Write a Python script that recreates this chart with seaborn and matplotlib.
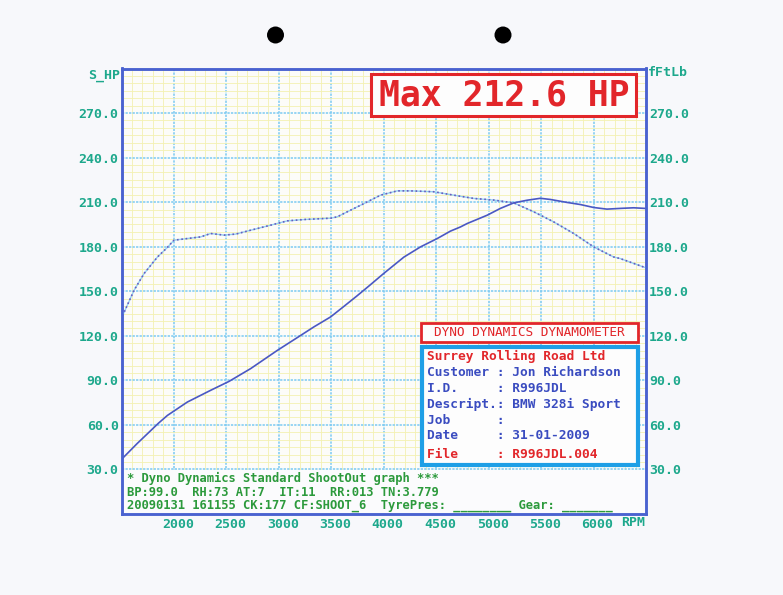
import numpy as np
import pandas as pd
import matplotlib
matplotlib.use("Agg")
import matplotlib.pyplot as plt
from matplotlib.patches import Rectangle, Ellipse
import matplotlib.transforms as mtransforms
import seaborn as sns

# ---------------- data ----------------
rpm_power = [1510, 1650, 1748, 1850, 1938, 2128, 2350, 2525, 2731, 2986, 3176, 3334,
             3493, 3620, 3747, 3858, 4000, 4192, 4351, 4510, 4636, 4731, 4795, 4986, 5112,
             5239, 5367, 5493, 5589, 5748, 5874, 6001, 6128, 6255, 6382, 6490]
power_hp = [37.5, 47.5, 54.1, 61.0, 66.4, 75.4, 83.3, 89.3, 97.9, 110.2, 118.8, 126.0,
            132.7, 139.8, 147.0, 153.5, 162.0, 173.0, 179.9, 185.5, 190.5, 193.3, 195.6, 201.2, 205.8,
            209.5, 211.3, 212.6, 211.8, 209.8, 208.4, 206.4, 205.3, 205.8, 206.2, 205.8]

rpm_torque = [1510, 1620, 1715, 1843, 1930, 2001, 2128, 2255, 2350, 2477, 2589, 2731,
              2922, 3081, 3239, 3493, 3557, 3652, 3810, 3969, 4129, 4255, 4477, 4668,
              4858, 5049, 5239, 5430, 5620, 5811, 6001, 6191, 6255, 6490]
torque_ftlb = [133.5, 150.7, 161.9, 173.1, 179.0, 184.4, 185.5, 186.6, 188.9, 187.8, 188.5, 191.1,
               194.5, 197.4, 198.3, 199.2, 200.1, 203.5, 209.0, 214.7, 217.6, 217.6, 217.0, 214.7,
               212.5, 211.4, 209.5, 203.5, 196.7, 188.9, 179.9, 173.1, 172.0, 166.0]

x_ticks = [2000, 2500, 3000, 3500, 4000, 4500, 5000, 5500, 6000]
y_ticks = [30, 60, 90, 120, 150, 180, 210, 240, 270]
y_tick_labels = ["30.0", "60.0", "90.0", "120.0", "150.0", "180.0", "210.0", "240.0", "270.0"]

max_text = "Max 212.6 HP"
dyno_title = "DYNO DYNAMICS DYNAMOMETER"
info_lines = [
    ("Surrey Rolling Road Ltd", "red"),
    ("Customer : Jon Richardson", "blue"),
    ("I.D.     : R996JDL", "blue"),
    ("Descript.: BMW 328i Sport", "blue"),
    ("Job      :", "blue"),
    ("Date     : 31-01-2009", "blue"),
    ("File     : R996JDL.004", "red"),
]
footer_lines = [
    "* Dyno Dynamics Standard ShootOut graph ***",
    "BP:99.0  RH:73 AT:7  IT:11  RR:013 TN:3.779",
    "20090131 161155 CK:177 CF:SHOOT_6  TyrePres: ________ Gear: _______",
]

# ---------------- style ----------------
sns.set_style("white")
plt.rcParams["font.family"] = ["DejaVu Sans Mono", "DejaVu Sans"]

W, H = 783, 595
fig = plt.figure(figsize=(W / 100, H / 100), dpi=100, facecolor="#f7f8fb")


def fx(x):
    return x / W


def fy(y):
    return 1 - y / H


TEAL = "#1da88c"
FRAME = "#4a62d0"
RED = "#e2262a"
BLUE = "#3a4cc0"
GREEN = "#2c9a3c"

left, right, top, bottom = 121.5, 646, 68.5, 514
ax = fig.add_axes([fx(left), fy(bottom), (right - left) / W, (bottom - top) / H])
ax.set_facecolor("#fcfcf9")
ax.set_xlim(1500, 6500)
ax.set_ylim(0, 300)

ax.set_xticks(x_ticks)
ax.set_xticks(np.arange(1500, 6501, 100), minor=True)
ax.set_yticks(y_ticks)
ax.set_yticks(np.arange(30, 301, 5), minor=True)
ax.set_axisbelow(True)
ax.grid(which="minor", color="#f3f1b2", lw=0.6, ls="-")
ax.grid(which="major", color="#7ccaf2", lw=1.1, ls=(0, (1.5, 0.8)))

ax.set_yticklabels(y_tick_labels)
ax.set_xticklabels([str(v) for v in x_ticks])
ax.tick_params(axis="both", which="both", length=0)
ax.tick_params(axis="y", pad=2, labelsize=9.5, labelcolor=TEAL)
ax.tick_params(axis="x", pad=3, labelsize=9.5, labelcolor=TEAL)
xoff = mtransforms.ScaledTranslation(4 / 100, 0, fig.dpi_scale_trans)
for lab in ax.get_xticklabels():
    lab.set_transform(lab.get_transform() + xoff)
for lab in ax.get_xticklabels() + ax.get_yticklabels():
    lab.set_fontweight("bold")
for s in ax.spines.values():
    s.set_color(FRAME)
    s.set_linewidth(1.8)

# footer area (white, below the 30 line)
ax.add_patch(Rectangle((1500, 0), 5000, 29.6, facecolor="#fbfbfd", edgecolor="none", zorder=1))

# curves
df_p = pd.DataFrame({"rpm": rpm_power, "val": power_hp})
df_t = pd.DataFrame({"rpm": rpm_torque, "val": torque_ftlb})
sns.lineplot(data=df_t, x="rpm", y="val", ax=ax, color="#94d2f2", lw=1.0, zorder=3)
sns.lineplot(data=df_t, x="rpm", y="val", ax=ax, color="#6a5cc0", lw=1.2,
             ls=(0, (1, 1.6)), zorder=3)
sns.lineplot(data=df_p, x="rpm", y="val", ax=ax, color="#4a58c4", lw=1.2, zorder=4)
ax.set_xlabel("")
ax.set_ylabel("")

# right axis
ax2 = ax.twinx()
ax2.set_ylim(ax.get_ylim())
ax2.set_yticks(y_ticks)
ax2.set_yticklabels(y_tick_labels)
ax2.tick_params(axis="y", length=0, pad=2, labelsize=9.5, labelcolor=TEAL)
for lab in ax2.get_yticklabels():
    lab.set_fontweight("bold")
for s in ax2.spines.values():
    s.set_color(FRAME)
    s.set_linewidth(1.8)

# axis titles
fig.text(fx(120), fy(75), "S_HP", ha="right", va="center", color=TEAL, fontsize=9.5, fontweight="bold")
fig.text(fx(648), fy(73), "fFtLb", ha="left", va="center", color=TEAL, fontsize=9.5, fontweight="bold")
fig.text(fx(633), fy(522), "RPM", ha="center", va="center", color=TEAL, fontsize=9.5, fontweight="bold")

# Max box
fig.add_artist(Rectangle((fx(370.5), fy(116)), (636 - 370.5) / W, (116 - 73.5) / H,
                         transform=fig.transFigure, facecolor="#fdfdfd", edgecolor=RED, lw=2.2, zorder=5))
fig.text(fx(504), fy(95), max_text, ha="center", va="center", color=RED,
         fontsize=25, fontweight="bold", zorder=6)

# Dyno title box
fig.add_artist(Rectangle((fx(421), fy(342)), (638 - 421) / W, (342 - 323) / H,
                         transform=fig.transFigure, facecolor="#fdfdfd", edgecolor=RED, lw=2.0, zorder=5))
fig.text(fx(529.5), fy(333), dyno_title, ha="center", va="center", color=RED, fontsize=9.2, zorder=6)

# info box
fig.add_artist(Rectangle((fx(421.5), fy(465)), (638 - 421.5) / W, (465 - 346.5) / H,
                         transform=fig.transFigure, facecolor="#fdfdfd", edgecolor="#1e9fe6", lw=3.0, zorder=5))
info_y = [356, 373, 389, 404.5, 420, 435.5, 454]
for (txt, col), yy in zip(info_lines, info_y):
    fig.text(fx(427), fy(yy), txt, ha="left", va="center",
             color=RED if col == "red" else BLUE, fontsize=9.3, fontweight="bold", zorder=6)

# footer text
for txt, yy in zip(footer_lines, [478, 492, 506]):
    fig.text(fx(127), fy(yy), txt, ha="left", va="center", color=GREEN, fontsize=8.7,
             fontweight="bold", zorder=6)

# punch holes
for cx in [275.5, 503]:
    fig.add_artist(Ellipse((fx(cx), fy(35)), 17 / W, 17 / H, transform=fig.transFigure,
                           facecolor="black", edgecolor="none"))

fig.savefig("out.png", dpi=100, facecolor=fig.get_facecolor())
